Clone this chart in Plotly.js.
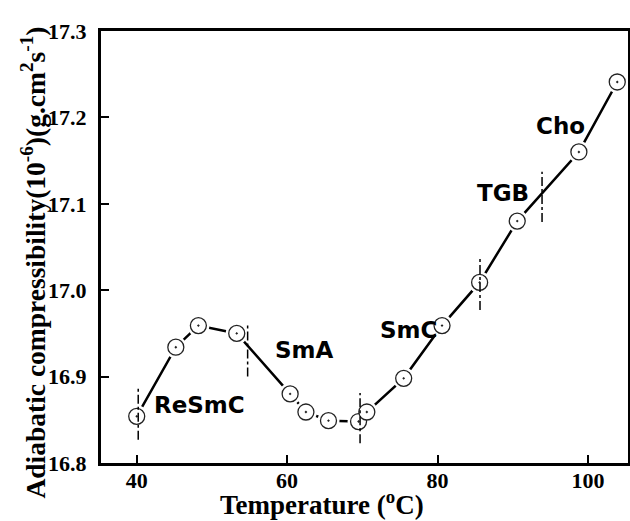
<!DOCTYPE html>
<html>
<head>
<meta charset="utf-8">
<script src="https://cdn.plot.ly/plotly-3.0.1.min.js"></script>
<style>html,body{margin:0;padding:0;background:#fff;}#chart{width:630px;height:521px;}</style>
</head>
<body>
<div id="chart"></div>
<script>
// Data
const temperature = [40, 45.2, 48.2, 53.3, 60.4, 62.5, 65.5, 69.5, 70.6, 75.5, 80.6, 85.6, 90.6, 98.8, 103.9];
const compressibility = [16.854, 16.934, 16.959, 16.950, 16.880, 16.859, 16.849, 16.848, 16.859, 16.898, 16.959, 17.009, 17.080, 17.160, 17.241];

// Phase transition markers (temperature, y-from, y-to)
const transitionT = [40.2, 54.75, 69.7, 85.65, 93.9];
const transitionY0 = [16.827, 16.900, 16.823, 16.977, 17.079];
const transitionY1 = [16.887, 16.960, 16.881, 17.037, 17.137];

// Phase labels
const phaseNames = ["ReSmC", "SmA", "SmC", "TGB", "Cho"];
const phaseX = [48.4, 62.25, 76.1, 88.65, 96.3];
const phaseY = [16.867, 16.931, 16.954, 17.112, 17.19];

const xTicks = [40, 60, 80, 100];
const yTicks = [16.8, 16.9, 17.0, 17.1, 17.2, 17.3];
const yTickText = ["16.8", "16.9", "17.0", "17.1", "17.2", "17.3"];

const xTitle = '<b>Temperature (<sup>o</sup>C)</b>';
const yTitle = '<b>Adiabatic compressibility(10<sup>-6</sup>)(g.cm<sup>2</sup>s<sup>-1</sup>)</b>';

const traces = [
  {x: temperature, y: compressibility, mode: 'lines', line: {color: '#000', width: 2.5}, hoverinfo: 'skip', showlegend: false},
  {x: temperature, y: compressibility, mode: 'markers', marker: {symbol: 'circle', size: 22, color: '#fff', line: {width: 0}}, hoverinfo: 'skip', showlegend: false},
  {x: temperature, y: compressibility, mode: 'markers', marker: {symbol: 'circle-dot', size: 16, color: '#fff', line: {color: '#222', width: 1.3}}, showlegend: false}
];

const shapes = transitionT.map((t, i) => ({
  type: 'line', xref: 'x', yref: 'y', x0: t, x1: t, y0: transitionY0[i], y1: transitionY1[i],
  line: {color: '#000', width: 1.5, dash: 'dashdot'}, layer: 'above'
}));

const annotations = phaseNames.map((n, i) => ({
  x: phaseX[i], y: phaseY[i], xref: 'x', yref: 'y', text: '<b>' + n + '</b>', showarrow: false,
  font: {family: 'DejaVu Sans', size: 23, color: '#000'}, xanchor: 'center', yanchor: 'middle'
}));
annotations.push({
  x: 0.4203, y: -0.0926, xref: 'paper', yref: 'paper', text: xTitle, showarrow: false,
  xanchor: 'center', yanchor: 'middle', font: {family: 'Liberation Serif', size: 27, color: '#000'}
});
annotations.push({
  x: -0.1271, y: 0.464, xref: 'paper', yref: 'paper', text: yTitle, showarrow: false, textangle: -90,
  xanchor: 'center', yanchor: 'middle', font: {family: 'Liberation Serif', size: 27.5, color: '#000'}
});

const layout = {
  width: 630, height: 521,
  margin: {l: 101, r: 2, t: 31, b: 58},
  paper_bgcolor: '#fff', plot_bgcolor: '#fff',
  showlegend: false,
  xaxis: {
    range: [35.25, 105.33], tickvals: xTicks, ticks: 'inside', ticklen: 8, tickwidth: 2, tickcolor: '#000',
    showline: true, linecolor: '#000', linewidth: 3, mirror: true, showgrid: false, zeroline: false,
    ticklabelstandoff: -4,
    tickfont: {family: 'Liberation Serif', size: 22, color: '#000', weight: 'bold'}
  },
  yaxis: {
    range: [16.8, 17.3], tickvals: yTicks, ticktext: yTickText, ticks: 'inside', ticklen: 8, tickwidth: 2, tickcolor: '#000',
    showline: true, linecolor: '#000', linewidth: 3, mirror: true, showgrid: false, zeroline: false,
    ticklabelstandoff: 7,
    tickfont: {family: 'Liberation Serif', size: 22, color: '#000', weight: 'bold'}
  },
  shapes: shapes,
  annotations: annotations
};

Plotly.newPlot('chart', traces, layout, {displayModeBar: false, staticPlot: true});
</script>
</body>
</html>
